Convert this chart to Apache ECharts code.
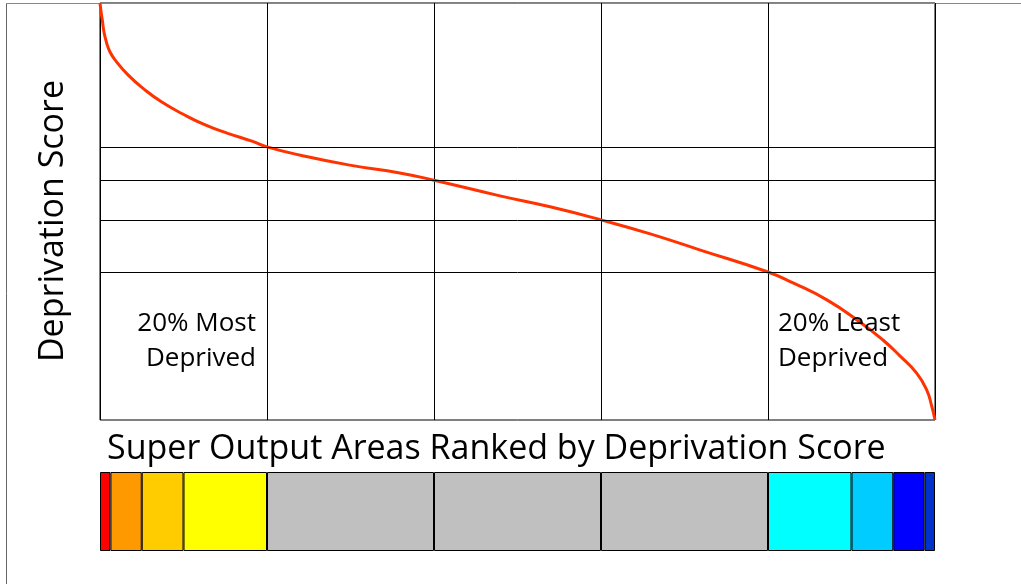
<!DOCTYPE html>
<html>
<head>
<meta charset="utf-8">
<script src="https://cdn.jsdelivr.net/npm/echarts@6/dist/echarts.min.js"></script>
<style>
    html, body { margin: 0; padding: 0; background: #fff; }
    #chart { width: 1021px; height: 584px; }
</style>
</head>
<body>
<div id="chart"></div>
<script>
    // Rank of the area, in % (0 = most deprived)
    const rankPct = [0, 0.18, 0.28, 0.48, 0.8, 1.2, 1.8, 3.35, 5.4, 7.4, 9.8, 12.6, 15.3, 18.2, 20,
        24, 29.9, 35.9, 40, 47.9, 53.9, 60, 65.9, 71.9, 80, 83, 87.1, 91, 93.8, 95.8, 97.8, 99, 99.6, 100];
    // Deprivation score for each rank
    const scores = [80, 77.7, 76.7, 74.4, 72.3, 70.6, 69.1, 66.2, 63.3, 61, 58.8, 56.6, 55, 53.5, 52.4,
        50.8, 48.9, 47.4, 46, 43, 40.9, 38.4, 35.7, 32.6, 28.4, 26.3, 23, 18.8, 15.3, 12.3, 9, 5.8, 2.7, 0];
    // Scores at the quintile boundaries
    const quintileScores = [52.4, 46.0, 38.4, 28.4];
    // Colour bands below the chart: share of areas (%) and colour
    const bandWidths = [1.25, 3.75, 5, 10, 20, 20, 20, 10, 5, 3.75, 1.25];
    const bandColors = ['#ff0000', '#ff9900', '#ffcc00', '#ffff00', '#c0c0c0', '#c0c0c0', '#c0c0c0',
        '#00ffff', '#00ccff', '#0000ff', '#0033cc'];

    const font = '"Open Sans", sans-serif';

    const chart = echarts.init(document.getElementById('chart'));

    // One stacked bar per colour band
    const bandSeries = bandWidths.map((w, i) => ({
        type: 'bar',
        xAxisIndex: 1,
        yAxisIndex: 1,
        stack: 'bands',
        barWidth: '100%',
        silent: true,
        data: [w],
        itemStyle: {color: bandColors[i], borderColor: '#000', borderWidth: 1}
    }));

    chart.setOption({
        animation: false,
        textStyle: {fontFamily: font},
        grid: [
            {left: 100, top: 3, width: 835, height: 417, show: true, borderColor: '#000', borderWidth: 1},
            {left: 100, top: 472, width: 835, height: 79}
        ],
        xAxis: [
            {
                gridIndex: 0, type: 'value', min: 0, max: 100, interval: 20,
                axisLine: {show: false}, axisTick: {show: false}, axisLabel: {show: false},
                splitLine: {show: true, lineStyle: {color: '#000', width: 1}}
            },
            {gridIndex: 1, type: 'value', min: 0, max: 100, show: false}
        ],
        yAxis: [
            {
                gridIndex: 0, type: 'value', min: 0, max: 80,
                axisLine: {show: false}, axisTick: {show: false}, axisLabel: {show: false},
                splitLine: {show: false}
            },
            {gridIndex: 1, type: 'category', data: ['areas'], show: false}
        ],
        series: [
            {
                type: 'line',
                data: rankPct.map((p, i) => [p, scores[i]]),
                showSymbol: false,
                smooth: 0.5,
                silent: true,
                lineStyle: {color: '#ff3300', width: 3},
                markLine: {
                    silent: true,
                    symbol: 'none',
                    label: {show: false},
                    lineStyle: {color: '#000', type: 'solid', width: 1},
                    data: quintileScores.map(v => ({yAxis: v}))
                },
                z: 3
            },
            ...bandSeries
        ],
        graphic: [
            // outer frame
            {type: 'line', shape: {x1: 6.5, y1: 3, x2: 6.5, y2: 584}, style: {stroke: '#666', lineWidth: 1}},
            {type: 'line', shape: {x1: 6, y1: 3.5, x2: 1021, y2: 3.5}, style: {stroke: '#888', lineWidth: 1}},
            {
                type: 'text', x: 53, y: 221, rotation: Math.PI / 2, z: 10,
                style: {text: 'Deprivation Score', fill: '#000', font: '34px ' + font,
                    align: 'center', verticalAlign: 'middle'}
            },
            {
                type: 'text', x: 107, y: 449, z: 10,
                style: {text: 'Super Output Areas Ranked by Deprivation Score', fill: '#000',
                    font: '34px ' + font, verticalAlign: 'middle', align: 'left'}
            },
            {
                type: 'text', x: 256, y: 306, z: 10,
                style: {text: '20% Most\nDeprived', fill: '#000', font: '26px ' + font,
                    lineHeight: 35, align: 'right', verticalAlign: 'top'}
            },
            {
                type: 'text', x: 778, y: 306, z: 10,
                style: {text: '20% Least\nDeprived', fill: '#000', font: '26px ' + font,
                    lineHeight: 35, align: 'left', verticalAlign: 'top'}
            }
        ]
    });
</script>
</body>
</html>
